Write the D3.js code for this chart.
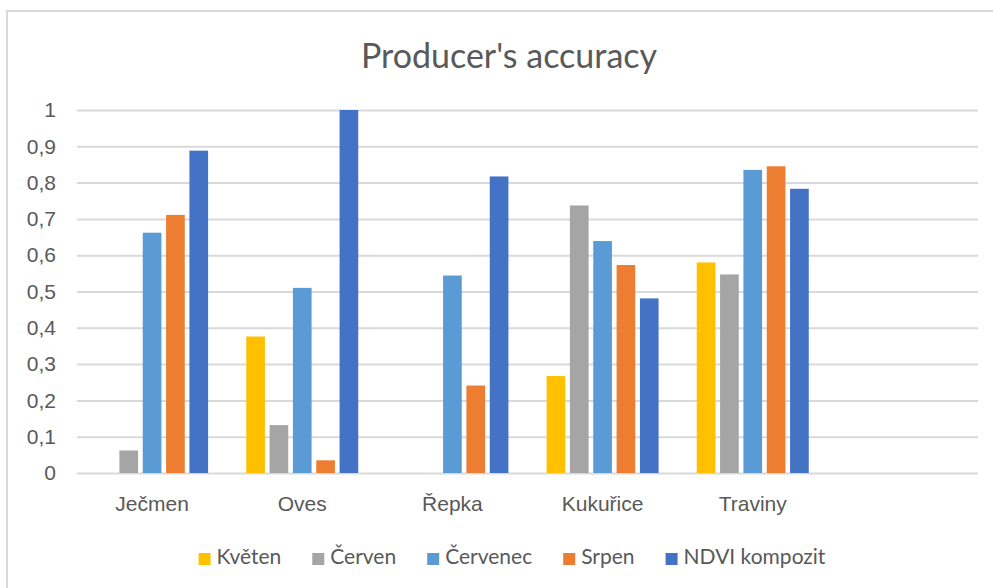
<!DOCTYPE html>
<meta charset="utf-8">
<style>
body { margin: 0; background: #fff; }
svg { font-family: "Lato", "Open Sans", sans-serif; }
.title { font-size: 34px; fill: #595959; }
.y.axis text { font-size: 21px; fill: #595959; }
.x.axis text { font-size: 21px; fill: #595959; }
.grid line { stroke: #d9d9d9; stroke-width: 2; }
.axis path { display: none; }
.legend text { font-size: 21px; fill: #595959; }
</style>
<body>
<script src="https://d3js.org/d3.v7.min.js"></script>
<script>
// data
var categories = ["Ječmen", "Oves", "Řepka", "Kukuřice", "Traviny", ""];
var series = ["Květen", "Červen", "Červenec", "Srpen", "NDVI kompozit"];
var kveten   = [0,     0.376, 0,     0.267, 0.580, null];
var cerven   = [0.062, 0.132, 0,     0.737, 0.547, null];
var cervenec = [0.662, 0.510, 0.544, 0.639, 0.835, null];
var srpen    = [0.711, 0.035, 0.241, 0.573, 0.845, null];
var ndvi     = [0.888, 1.000, 0.817, 0.481, 0.783, null];
var yTicks = [0, 0.1, 0.2, 0.3, 0.4, 0.5, 0.6, 0.7, 0.8, 0.9, 1];
var colors = ["#ffc000", "#a5a5a5", "#5b9bd5", "#ed7d31", "#4472c4"];

var values = [kveten, cerven, cervenec, srpen, ndvi];

var W = 993, H = 588;
var plotLeft = 77, plotRight = 978, plotTop = 110, plotBottom = 473;

var svg = d3.select("body").append("svg")
	.attr("width", W)
	.attr("height", H);

// chart frame
svg.append("rect")
	.attr("x", 7).attr("y", 11)
	.attr("width", W + 20).attr("height", H + 20)
	.attr("fill", "#fff")
	.attr("stroke", "#d9d9d9")
	.attr("stroke-width", 2);

svg.append("text")
	.attr("class", "title")
	.attr("x", 509)
	.attr("y", 68)
	.attr("text-anchor", "middle")
	.text("Producer's accuracy");

var x0 = d3.scaleBand()
	.domain(categories)
	.range([plotLeft, plotRight])
	.paddingInner(0.223)
	.paddingOuter(0.1115);

var x1 = d3.scaleBand()
	.domain(series)
	.range([0, x0.bandwidth()])
	.paddingInner(0.2)
	.paddingOuter(0.1);

var y = d3.scaleLinear().domain([0, 1]).range([plotBottom, plotTop]);

var cz = d3.formatLocale({decimal: ",", thousands: " ", grouping: [3], currency: ["", " Kč"]});

// gridlines + y labels
svg.append("g")
	.attr("class", "y axis grid")
	.attr("transform", "translate(" + plotLeft + ",0)")
	.call(d3.axisLeft(y)
		.tickValues(yTicks)
		.tickSize(-(plotRight - plotLeft))
		.tickPadding(21)
		.tickFormat(cz.format(".1~f")));

// bars
var groups = svg.append("g").selectAll("g")
	.data(categories)
	.join("g")
	.attr("transform", function(d) { return "translate(" + x0(d) + ",0)"; });

groups.selectAll("rect")
	.data(function(d, i) {
		return series.map(function(s, j) { return {s: s, v: values[j][i], c: colors[j]}; })
			.filter(function(o) { return o.v != null && o.v > 0; });
	})
	.join("rect")
	.attr("x", function(d) { return x1(d.s); })
	.attr("y", function(d) { return y(d.v); })
	.attr("width", x1.bandwidth())
	.attr("height", function(d) { return y(0) - y(d.v); })
	.attr("fill", function(d) { return d.c; });

// category labels
var xa = svg.append("g")
	.attr("class", "x axis")
	.attr("transform", "translate(0," + plotBottom + ")")
	.call(d3.axisBottom(x0).tickSize(0));
xa.selectAll("text").attr("dy", null).attr("y", 38);

// legend
var legend = svg.append("g").attr("class", "legend");
var items = legend.selectAll("g")
	.data(series)
	.join("g");
items.append("rect")
	.attr("width", 12).attr("height", 12)
	.attr("y", -11)
	.attr("fill", function(d, i) { return colors[i]; });
items.append("text")
	.attr("x", 18)
	.text(function(d) { return d; });

var gap = 31, pos = 0, offs = [];
items.each(function(d) {
	var w = 18 + d3.select(this).select("text").node().getComputedTextLength();
	offs.push(pos);
	pos += w + gap;
});
var start = 512 - (pos - gap) / 2;
items.attr("transform", function(d, i) { return "translate(" + (start + offs[i]) + ",564)"; });
</script>
